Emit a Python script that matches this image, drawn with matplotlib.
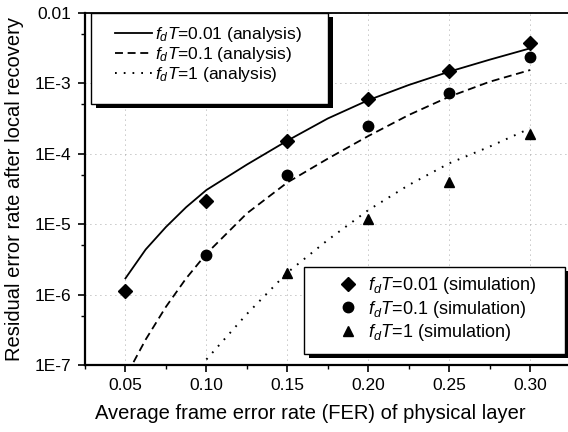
import matplotlib
matplotlib.use('Agg')
import matplotlib.pyplot as plt
from matplotlib.patches import Rectangle
from matplotlib.ticker import FixedLocator, MultipleLocator, LogLocator, NullFormatter

plt.rcParams['font.family'] = ['Liberation Sans', 'DejaVu Sans']
plt.rcParams['mathtext.fontset'] = 'custom'
plt.rcParams['mathtext.rm'] = 'Liberation Sans'
plt.rcParams['mathtext.it'] = 'Liberation Sans:italic'

# analysis curves
fer_a001 = [0.05, 0.0625, 0.075, 0.0875, 0.10, 0.125, 0.15, 0.175, 0.20, 0.225, 0.25, 0.275, 0.30]
ana_001 = [1.7e-6, 4.37e-6, 9.1e-6, 1.74e-5, 3.05e-5, 7.0e-5, 1.53e-4, 3.16e-4, 5.75e-4,
           9.44e-4, 1.46e-3, 2.16e-3, 3.13e-3]
fer_a01 = [0.055, 0.0625, 0.075, 0.0875, 0.10, 0.125, 0.15, 0.175, 0.20, 0.225, 0.25, 0.275, 0.30]
ana_01 = [1.1e-7, 2.3e-7, 6.7e-7, 1.7e-6, 3.8e-6, 1.42e-5, 3.9e-5, 8.5e-5, 1.78e-4,
          3.54e-4, 6.44e-4, 1.05e-3, 1.54e-3]
fer_a1 = [0.10, 0.125, 0.15, 0.175, 0.20, 0.225, 0.25, 0.275, 0.30]
ana_1 = [1.2e-7, 5.3e-7, 2.05e-6, 5.96e-6, 1.58e-5, 3.59e-5, 7.3e-5, 1.26e-4, 2.29e-4]

# simulation points
fer_s001 = [0.05, 0.10, 0.15, 0.20, 0.25, 0.30]
sim_001 = [1.13e-6, 2.1e-5, 1.53e-4, 5.9e-4, 1.51e-3, 3.77e-3]
fer_s01 = [0.10, 0.15, 0.20, 0.25, 0.30]
sim_01 = [3.7e-6, 5.0e-5, 2.5e-4, 7.2e-4, 2.34e-3]
fer_s1 = [0.15, 0.20, 0.25, 0.30]
sim_1 = [2.05e-6, 1.2e-5, 4.0e-5, 1.9e-4]

xticks = [0.05, 0.10, 0.15, 0.20, 0.25, 0.30]
xticklabels = ['0.05', '0.10', '0.15', '0.20', '0.25', '0.30']
yticks = [1e-7, 1e-6, 1e-5, 1e-4, 1e-3, 1e-2]
yticklabels = ['1E-7', '1E-6', '1E-5', '1E-4', '1E-3', '0.01']

W, H = 568, 432
fig = plt.figure(figsize=(W / 100, H / 100), dpi=100)
ax = fig.add_axes([0.1496, 0.155, 0.855, 0.8154])

l1, = ax.plot(fer_a001, ana_001, color='black', lw=1.3, ls='-')
l2, = ax.plot(fer_a01, ana_01, color='black', lw=1.3, ls=(0, (4.4, 2.6)))
l3, = ax.plot(fer_a1, ana_1, color='black', lw=1.4, ls=(0, (0.9, 3.6)))
m1, = ax.plot(fer_s001, sim_001, 'D', color='black', ms=7, ls='none')
m2, = ax.plot(fer_s01, sim_01, 'o', color='black', ms=7.5, ls='none')
m3, = ax.plot(fer_s1, sim_1, '^', color='black', ms=7.5, ls='none')

ax.set_yscale('log')
ax.set_xlim(0.025, 0.325)
ax.set_ylim(1e-7, 1e-2)
ax.xaxis.set_major_locator(FixedLocator(xticks))
ax.set_xticklabels(xticklabels)
ax.xaxis.set_minor_locator(MultipleLocator(0.025))
ax.yaxis.set_major_locator(FixedLocator(yticks))
ax.set_yticklabels(yticklabels)
ax.yaxis.set_minor_locator(LogLocator(base=10, subs=[5]))
ax.yaxis.set_minor_formatter(NullFormatter())

ax.tick_params(which='major', direction='out', length=5, width=1.2, labelsize=12.5,
               top=False, right=False)
ax.tick_params(axis='x', which='major', pad=4)
ax.tick_params(axis='y', which='major', pad=5)
ax.tick_params(which='minor', direction='out', length=3, width=1, top=False, right=False)
ax.grid(True, which='major', color='0.55', ls=(0, (1, 5)), lw=0.6)

for s in ['left', 'bottom']:
    ax.spines[s].set_linewidth(1.6)
ax.spines['top'].set_linewidth(1.3)
ax.spines['right'].set_visible(False)

ax.set_xlabel('Average frame error rate (FER) of physical layer', fontsize=14.5)
ax.set_ylabel('Residual error rate after local recovery', fontsize=14.5)
ax.xaxis.set_label_coords(0.464, -0.111)
ax.yaxis.set_label_coords(-0.126, 0.5)

leg1 = fig.legend([l1, l2, l3],
                  [r'$f_dT$=0.01 (analysis)', r'$f_dT$=0.1 (analysis)', r'$f_dT$=1 (analysis)'],
                  loc='upper left', bbox_to_anchor=(115 / W, 1 - 25 / H), fontsize=12.5,
                  borderaxespad=0, borderpad=0, frameon=False,
                  handlelength=2.13, handletextpad=0.17, labelspacing=0.05)
leg2 = fig.legend([m1, m2, m3],
                  [r'$f_dT$=0.01 (simulation)', r'$f_dT$=0.1 (simulation)', r'$f_dT$=1 (simulation)'],
                  loc='upper left', bbox_to_anchor=(336 / W, 1 - 275 / H), fontsize=13,
                  borderaxespad=0, borderpad=0, frameon=False,
                  handlelength=1.33, handletextpad=0.45, labelspacing=0.15)

# boxed legends with a solid drop shadow
fig.canvas.draw()
for leg, (pl, pr, pt, pb) in [(leg1, (24, 26, 12, 20)), (leg2, (32, 29, 8, 11))]:
    bb = leg.get_window_extent()
    x0, y0 = (bb.x0 - pl) / W, (bb.y0 - pb) / H
    w, h = (bb.width + pl + pr) / W, (bb.height + pt + pb) / H
    fig.add_artist(Rectangle((x0 + 5 / W, y0 - 4 / H), w, h, transform=fig.transFigure,
                             facecolor='black', edgecolor='none', zorder=3))
    fig.add_artist(Rectangle((x0, y0), w, h, transform=fig.transFigure,
                             facecolor='white', edgecolor='black', lw=1.0, zorder=4))

fig.savefig('out.png', dpi=100)
